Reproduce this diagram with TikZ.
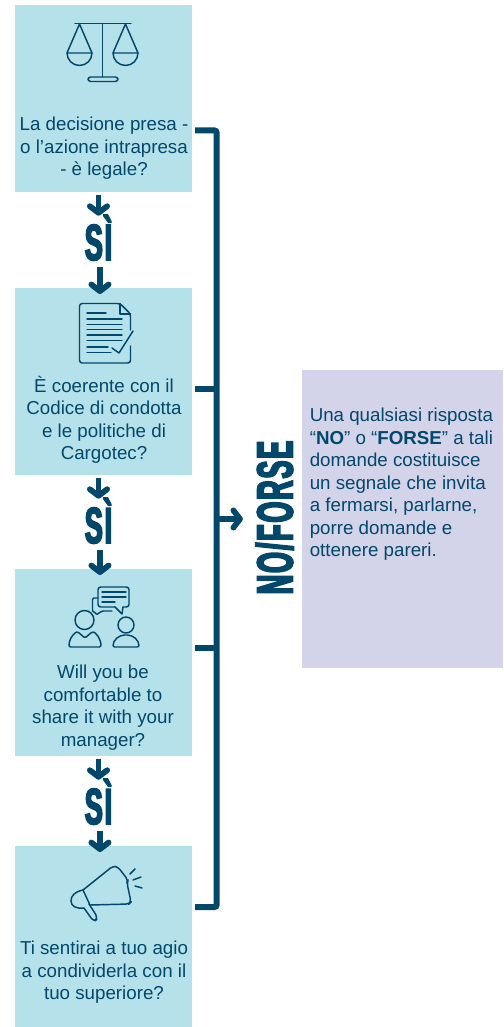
\documentclass[tikz,border=0pt]{standalone}
\usepackage{fontspec}
\usetikzlibrary{arrows.meta}
\setmainfont{Liberation Sans}
\newfontfamily\heavyfont[FakeStretch=0.53,FakeBold=3.5,LetterSpace=3.7]{Liberation Sans Bold}
\definecolor{darkblue}{HTML}{03476A}
\definecolor{lightblue}{HTML}{B5E1EA}
\definecolor{lilac}{HTML}{D3D3E9}
\tikzset{
questionbox/.style={fill=lightblue,inner sep=0,anchor=north west,minimum width=132.75pt},
question/.style={text=darkblue,align=center,inner sep=0,anchor=north,font=\fontsize{14.05}{16.85}\selectfont},
bigword/.style={text=darkblue,inner sep=0,text height=33pt,text depth=0pt,font=\heavyfont\fontsize{38}{38}\selectfont},
flowarrow/.style={draw=darkblue,line width=4.3pt,-{Straight Barb[round,length=5pt,width=13pt]}},
trunk/.style={draw=darkblue,line width=4.5pt,rounded corners=1.5pt},
icon/.style={draw=darkblue,line width=1.1pt,line cap=round,line join=round}
}
\begin{document}
\begin{tikzpicture}[x=0.75pt,y=-0.75pt]
\useasboundingbox (0,0) rectangle (503,1027);
%question boxes
\node[questionbox,minimum height=140.25pt] (box1) at (15,5) {};
\node[questionbox,minimum height=140.25pt] (box2) at (15,288) {};
\node[questionbox,minimum height=140.25pt] (box3) at (15,569) {};
\node[questionbox,minimum height=136.5pt] (box4) at (15,846) {};
\node[question] (text1) at (104,117) {La decisione presa -\\o l’azione intrapresa\\- è legale?};
\node[question] (text2) at (104,376) {È coerente con il\\Codice di condotta\\e le politiche di\\Cargotec?};
\node[question] (text3) at (103,665) {Will you be\\comfortable to\\share it with your\\manager?};
\node[question] (text4) at (104,941) {Ti sentirai a tuo agio\\a condividerla con il\\tuo superiore?};
%side panel
\node[fill=lilac,inner sep=0,anchor=north west,minimum width=150.75pt,minimum height=223.5pt] (panel) at (302,370) {};
\node[question,align=left,anchor=north west] (paneltext) at (309.5,408) {Una qualsiasi risposta\\“\textbf{NO}” o “\textbf{FORSE}” a tali\\domande costituisce\\un segnale che invita\\a fermarsi, parlarne,\\porre domande e\\ottenere pareri.};
%words and arrows between the boxes
\node[bigword] (si1) at (98.5,238) {SÌ};
\node[bigword] (si2) at (98.5,521) {SÌ};
\node[bigword] (si3) at (98.5,802) {SÌ};
\foreach \x/\y in {1/2,2/3,3/4}{
	\draw[flowarrow,shorten <=1.5pt] (si\x.north |- box\x.south) -- (si\x.north);
	\draw[flowarrow,shorten <=5pt,shorten >=-4.5pt] ([xshift=1.1pt]si\x.south) -- ([xshift=1.1pt]si\x.south |- box\y.north);
}
%bracket on the right
\coordinate (t1) at (195,130.5);
\coordinate (t2) at (195,389);
\coordinate (t3) at (195,648);
\coordinate (t4) at (195,907);
\coordinate (j5) at (216.5,519);
\draw[trunk] (t1) -- (t1 -| j5) -- (t4 -| j5) -- (t4);
\draw[trunk] (t2) -- (t2 -| j5);
\draw[trunk] (t3) -- (t3 -| j5);
\node[bigword,rotate=90] (noforse) at (270.5,517.5) {NO/FORSE};
\draw[flowarrow,shorten >=4pt] (j5) -- (noforse.north |- j5);
%scales
\draw[icon] (75,23.5) -- (131,23.5) (102.5,23.5) -- (102.5,77);
\draw[icon,rounded corners=2pt] (88,77) rectangle (118,81.5);
\foreach \c in {79.5,125.5}{
	\draw[icon] (\c,24) -- (\c-12.5,53) -- (\c+12.5,53) -- cycle;
	\draw[icon] (\c-12.5,53) arc[start angle=180,end angle=0,radius=12.5];
}
%document
\draw[icon,rounded corners=2pt] (130.5,330) -- (130.5,314) -- (120,303.5) -- (79.5,303.5) -- (79.5,363) -- (130.5,363) -- (130.5,346);
\draw[icon] (120,303.5) -- (120,314) -- (130.5,314);
\draw[icon] (87,313) -- (106,313) (87,347) -- (108,347) (87,352.7) -- (111,352.7);
\foreach \y in {319,324.3,329.7,335,340.3}{
	\draw[icon] (87,\y) -- (122,\y);
}
\draw[icon] (112,348) -- (119,353) -- (133,331);
%people talking
\draw[icon,rounded corners=2pt] (115,607) -- (98,607) -- (98,587) -- (129,587) -- (129,607) -- (123,607);
\draw[icon] (115,607) -- (122,614) -- (123,607);
\draw[icon] (102,592) -- (126,592) (102,597) -- (126,597) (102,602) -- (115,602);
\draw[icon,rounded corners=1pt] (98,598) -- (92.5,598) -- (92.5,612) -- (95.5,612) -- (96,615) -- (102,611) -- (112,611);
\draw[icon] (84.5,620) circle[radius=9.5];
\draw[icon] (126,625) circle[radius=8];
\draw[icon,rounded corners=1pt] (69,647) .. controls (69,637) and (76,632) .. (78,632) -- (85,638) -- (92,632) .. controls (95,632) and (101,638) .. (101,647) -- cycle;
\draw[icon,rounded corners=1pt] (113,647) .. controls (113,640) and (119,635) .. (126,635) .. controls (133,635) and (139,640) .. (139,647) -- cycle;
%megaphone
\draw[icon,rounded corners=2.5pt] (83,890) -- (113,866) -- (118,867) -- (128,880) -- (127,883) -- (131,902) -- (129,904) -- (90,905);
\draw[icon] (83,890) -- (90,905);
\draw[icon] (83,890) .. controls (74,892) and (71,896) .. (71,901) .. controls (71,906) and (76,909) .. (84,908);
\draw[icon,rounded corners=3pt] (84,908) -- (94,922) -- (98,918) -- (89,904);
\draw[icon] (130,874) -- (135,869) (133,880) -- (141,877) (135,886) -- (142,888);
\end{tikzpicture}
\end{document}
